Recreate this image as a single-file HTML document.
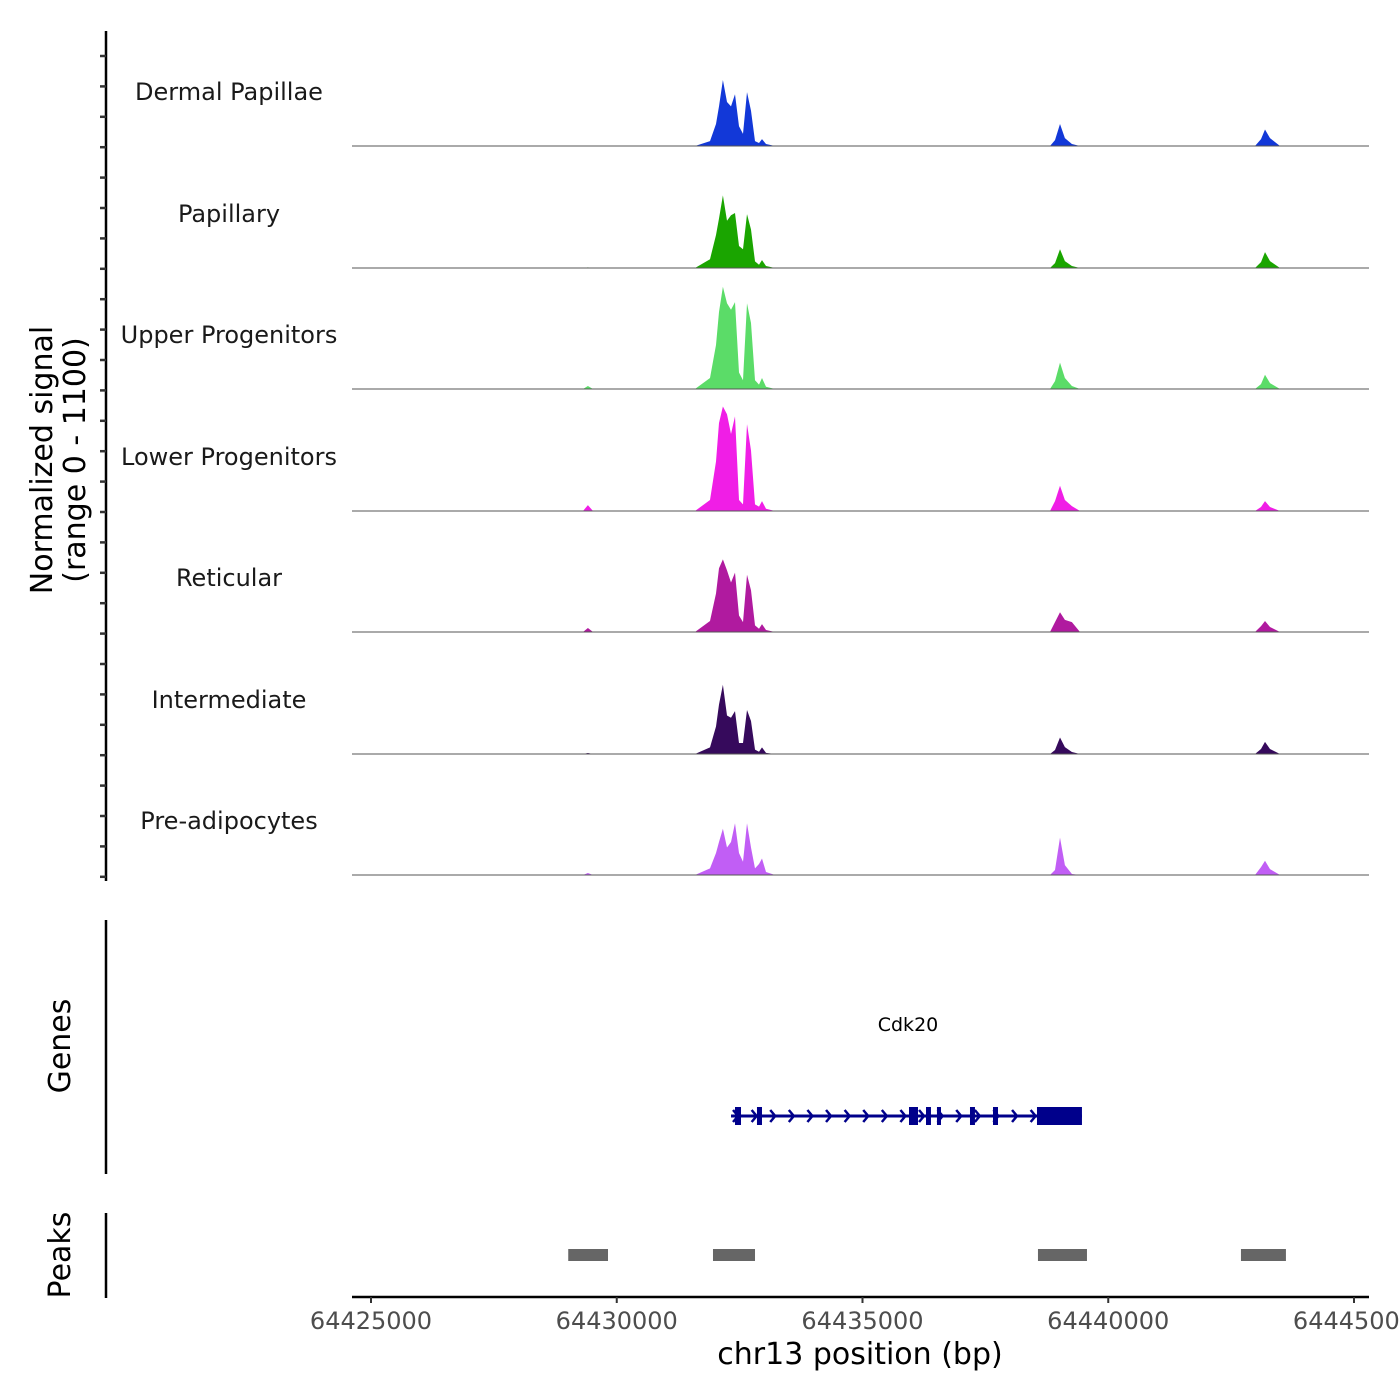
<!DOCTYPE html>
<html><head><meta charset="utf-8"><style>
html,body{margin:0;padding:0;background:#fff;}
svg{display:block;font-family:"DejaVu Sans","Liberation Sans",sans-serif;}
</style></head><body>
<svg id="chart" width="1400" height="1400" viewBox="0 0 1400 1400" xmlns="http://www.w3.org/2000/svg">
<g id="tracks"></g>
<g id="yaxis"></g>
<text transform="translate(52,460) rotate(-90)" text-anchor="middle" font-size="30" fill="#000">Normalized signal</text>
<text transform="translate(85,460) rotate(-90)" text-anchor="middle" font-size="30" fill="#000">(range 0 - 1100)</text>
<line x1="106" y1="920" x2="106" y2="1174" stroke="#000" stroke-width="2.5"/>
<text transform="translate(70,1046) rotate(-90)" text-anchor="middle" font-size="30" fill="#000">Genes</text>
<g id="genes"></g>
<line x1="106" y1="1213" x2="106" y2="1298" stroke="#000" stroke-width="2.5"/>
<text transform="translate(70,1255) rotate(-90)" text-anchor="middle" font-size="30" fill="#000">Peaks</text>
<g id="peaks"></g>
<g id="xaxis"></g>
<text x="860" y="1364" text-anchor="middle" font-size="30" fill="#000">chr13 position (bp)</text>
</svg>
<script>
const trackNames = ["Dermal Papillae","Papillary","Upper Progenitors","Lower Progenitors","Reticular","Intermediate","Pre-adipocytes"];
const trackColors = ["#1238d8","#1aa500","#5bdc68","#f01ee6","#b01a9f","#360a5c","#c15ef5"];
const positions = [64424600,64429313,64429414,64429516,64431592,64431897,64432019,64432080,64432160,64432243,64432324,64432406,64432487,64432568,64432650,64432731,64432813,64432894,64432955,64433036,64433219,64438814,64438916,64439018,64439119,64439261,64439425,64442985,64443108,64443189,64443291,64443494,64445304];
const sigDP = [0,0,0,0,0,45,200,360,600,400,360,470,180,110,490,320,45,27,63,18,0,0,54,200,72,18,0,0,63,150,72,0,0];
const sigPap = [0,0,5,0,0,80,300,450,660,430,480,500,200,170,490,350,60,30,72,18,0,0,45,170,63,18,0,0,54,145,63,0,0];
const sigUpper = [0,0,27,0,0,100,400,700,930,780,720,790,150,80,780,600,80,40,100,20,0,0,72,240,100,27,0,0,45,130,54,0,0];
const sigLower = [0,0,54,0,0,100,450,800,950,880,700,860,100,60,790,550,60,40,90,20,0,0,90,230,100,45,0,0,36,90,36,0,0];
const sigRet = [0,0,36,0,0,100,350,580,660,560,450,540,150,90,520,380,60,30,72,18,0,0,90,180,110,90,0,0,54,100,45,0,0];
const sigInt = [0,0,9,0,0,60,250,450,630,350,330,390,100,100,400,300,40,20,60,10,0,0,36,150,63,18,0,0,45,110,45,0,0];
const sigPre = [0,0,18,0,0,60,200,300,420,250,300,470,200,120,470,250,60,100,150,27,0,0,45,340,90,9,0,0,72,130,54,0,0];
const signals = [sigDP,sigPap,sigUpper,sigLower,sigRet,sigInt,sigPre];
const xTicks = [64425000,64430000,64435000,64440000,64445000];
const peakStarts = [64429013,64431958,64438570,64442700];
const peakEnds = [64429822,64432813,64439567,64443615];
const exonStarts = [64432406,64432853,64435946,64436292,64436515,64437187,64437655,64438550];
const exonEnds = [64432528,64432955,64436129,64436393,64436597,64437288,64437757,64439465];
const geneStart = 64432325, geneEnd = 64439465;

const NS="http://www.w3.org/2000/svg";
const X0=352,X1=1369;
function xs(bp){return 371+(bp-64425000)*(983/20000);}
const baselines=[146,268,389,511,632,754,875];
function ys(v,b){return b-v*(121/1100);}
function mk(tag,attrs,parent){const e=document.createElementNS(NS,tag);for(const k in attrs)e.setAttribute(k,attrs[k]);parent.appendChild(e);return e;}

const tg=document.getElementById('tracks');
signals.forEach((s,i)=>{
  const b=baselines[i];
  let d=`M${X0},${b}`;
  positions.forEach((p,j)=>{d+=` L${Math.max(X0,Math.min(X1,xs(p))).toFixed(1)},${ys(s[j],b).toFixed(1)}`;});
  d+=` L${X1},${b} Z`;
  const a=mk('path',{d:d,fill:trackColors[i]},tg);
  
  
  const l=mk('line',{x1:X0,x2:X1,y1:b,y2:b,stroke:'#555','stroke-width':1},tg);
  
  
  const t=mk('text',{x:229,y:b-46,'text-anchor':'middle','font-size':24,fill:'#1a1a1a'},tg);
  t.textContent=trackNames[i];
  
  
});

const ya=document.getElementById('yaxis');
mk('line',{x1:106,y1:31,x2:106,y2:881,stroke:'#000','stroke-width':2.5},ya);
for(let k=0;k<28;k++){const y=56+k*30.4;mk('line',{x1:100,x2:106,y1:y,y2:y,stroke:'#333','stroke-width':2.5},ya);}

const gg=document.getElementById('genes');
const gt=mk('text',{x:908,y:1031,'text-anchor':'middle','font-size':19,fill:'#000'},gg);
gt.textContent='Cdk20';


const gl=mk('line',{x1:xs(geneStart),x2:xs(geneEnd),y1:1116,y2:1116,stroke:'#00008b','stroke-width':3},gg);


for(let x=xs(geneStart)+2;x<xs(geneEnd)-50;x+=18.6){
  mk('path',{d:`M${x},${1110} L${x+5},${1116} L${x},${1122}`,fill:'none',stroke:'#00008b','stroke-width':2.5},gg);
}
exonStarts.forEach((s,i)=>{
  const r=mk('rect',{x:xs(s),y:1107,width:xs(exonEnds[i])-xs(s),height:18,fill:'#00008b'},gg);
  
  
});

const pg=document.getElementById('peaks');
peakStarts.forEach((s,i)=>{
  const r=mk('rect',{x:xs(s),y:1249,width:xs(peakEnds[i])-xs(s),height:12,fill:'#666'},pg);
  
  
});

const xa=document.getElementById('xaxis');
mk('line',{x1:X0,x2:X1,y1:1297,y2:1297,stroke:'#000','stroke-width':2.5},xa);
xTicks.forEach(t=>{
  const x=xs(t);
  mk('line',{x1:x,x2:x,y1:1297,y2:1303,stroke:'#333','stroke-width':2},xa);
  const tx=mk('text',{x:x,y:1329,'text-anchor':'middle','font-size':24,fill:'#4d4d4d'},xa);
  tx.textContent=String(t);
  
  
});
</script>
</body></html>
